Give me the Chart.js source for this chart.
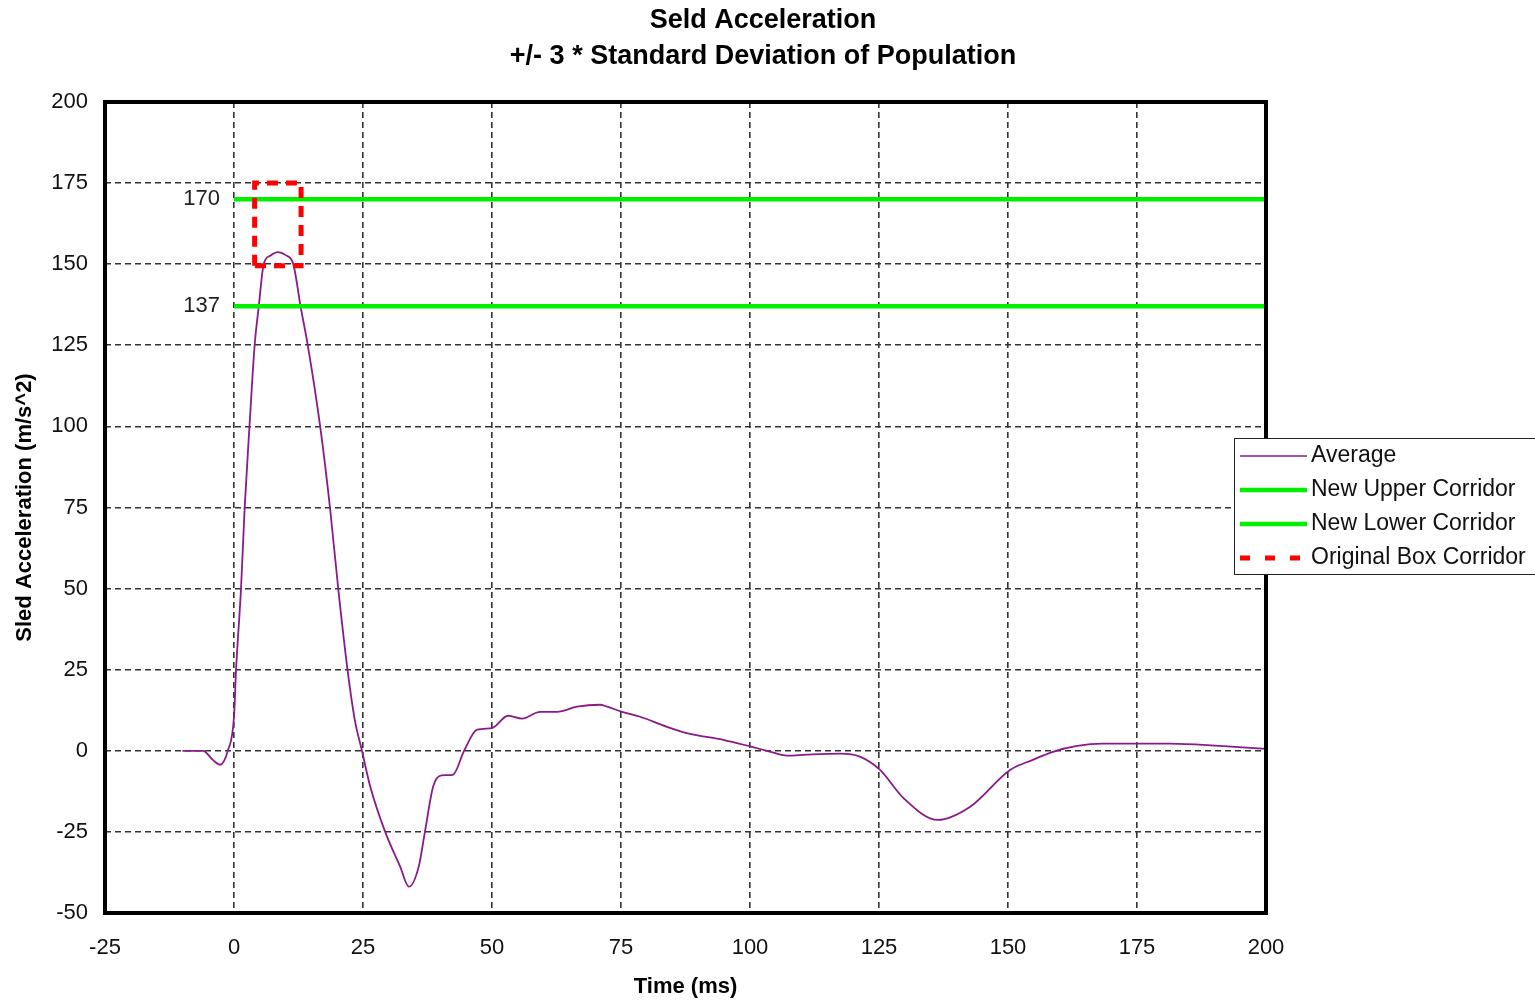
<!DOCTYPE html>
<html>
<head>
<meta charset="utf-8">
<title>Seld Acceleration</title>
<script src="https://cdn.jsdelivr.net/npm/chart.js@4.4.0/dist/chart.umd.min.js"></script>
<style>
    body { margin:0; background:#fff; }
    #wrap { width:1535px; height:1001px; }
</style>
</head>
<body>
<div id="wrap"><canvas id="sledChart" width="1535" height="1001"></canvas></div>
<script>
// values
var timeMs = [-10, -6, -4.1, -2.7, -1.2, 0, 0.4, 1.36, 2.07, 3.0, 4.0, 4.8, 5.75, 7, 8.5, 10, 11.5, 12.9, 14.3, 16.7, 18.6, 20.2, 22.0, 23.4, 24.8, 26.4, 29.3, 32.2, 33.9, 35.8, 37, 38.6, 40.2, 42.4, 44.6, 47.1, 50, 53.1, 55.8, 59.3, 62.6, 66.5, 70.9, 72.3, 75.2, 78.7, 83.9, 88.4, 94.8, 100.4, 103.3, 107.2, 111, 117.4, 121.3, 125.2, 129.7, 136.4, 142.6, 150.4, 154.8, 158.7, 163.4, 168.4, 175, 181.4, 191, 200];
var avgAccel = [0, 0, -2.8, -4.3, 0, 10.5, 25, 50, 75, 100, 125, 137, 150, 152.6, 153.7, 152.8, 150, 137, 125, 100, 75, 50, 25, 9.6, 0, -11, -25, -35.7, -41.9, -35.7, -25, -11, -7.6, -7.4, 0, 6.5, 7, 10.8, 9.9, 12, 12, 13.6, 14.2, 13.6, 12, 10.5, 7.4, 5.2, 3.4, 1.2, 0, -1.5, -1.2, -0.9, -1.8, -5.9, -14.5, -21.3, -17.3, -5.9, -2.8, -0.3, 1.5, 2.2, 2.2, 2.2, 1.5, 0.6];

var corridorX = [0, 200];
var upperCorridor = 170;
var lowerCorridor = 137;
var boxX = [4, 13];
var boxY = [149.5, 175];

var seriesNames = ['Average', 'New Upper Corridor', 'New Lower Corridor', 'Original Box Corridor'];
var titleLines = ['Seld Acceleration', '+/- 3 * Standard Deviation of Population'];

window.addEventListener('DOMContentLoaded', init, false);

function init(){
    Chart.defaults.font.family = '"Liberation Sans", Arial, sans-serif';
    Chart.defaults.color = '#000';

    var avgPoints = [];
    for (var i=0;i<timeMs.length;i++){
        avgPoints.push({x:timeMs[i], y:avgAccel[i]});
    }
    var upperPoints = [{x:corridorX[0], y:upperCorridor}, {x:corridorX[1], y:upperCorridor}];
    var lowerPoints = [{x:corridorX[0], y:lowerCorridor}, {x:corridorX[1], y:lowerCorridor}];
    var boxPoints = [
        {x:boxX[0], y:boxY[0]}, {x:boxX[0], y:boxY[1]},
        {x:boxX[1], y:boxY[1]}, {x:boxX[1], y:boxY[0]},
        {x:boxX[0], y:boxY[0]}
    ];

    new Chart(document.getElementById('sledChart').getContext('2d'), {
        type: 'scatter',
        data: {
            datasets: [{
                label: seriesNames[0],
                data: avgPoints,
                showLine: true,
                borderColor: '#8a1a8a',
                borderWidth: 1.8,
                pointRadius: 0,
                cubicInterpolationMode: 'monotone',
                order: 3
            },
            {
                label: seriesNames[1],
                data: upperPoints,
                showLine: true,
                borderColor: '#00f000',
                borderWidth: 4.5,
                pointRadius: 0,
                order: 2
            },
            {
                label: seriesNames[2],
                data: lowerPoints,
                showLine: true,
                borderColor: '#00f000',
                borderWidth: 4.5,
                pointRadius: 0,
                order: 1
            },
            {
                label: seriesNames[3],
                data: boxPoints,
                showLine: true,
                borderColor: '#ff0000',
                borderWidth: 5,
                borderDash: [11, 8],
                pointRadius: 0,
                order: 0
            }]
        },
        options: {
            responsive: false,
            animation: false,
            layout: { padding: { left:0, right:9, top:0, bottom:0 } },
            plugins: {
                legend: { display: false },
                tooltip: { enabled: false },
                title: {
                    display: true,
                    text: titleLines,
                    font: { size: 27, weight: 'bold', lineHeight: 1.333 },
                    color: '#000',
                    padding: { top: 3, bottom: 27 }
                }
            },
            scales: {
                x: {
                    type: 'linear',
                    min: -25,
                    max: 200,
                    ticks: { stepSize: 25, padding: 22, font: { size: 22 }, color: '#111' },
                    grid: { color: '#333', lineWidth: 1.6, drawTicks: false },
                    border: { display: false, dash: [6, 4] },
                    title: { display: true, text: 'Time (ms)', font: { size: 22, weight: 'bold' }, padding: { top: 0, bottom: 1 } },
                    afterFit: function(scale){ scale.height = 88; }
                },
                y: {
                    min: -50,
                    max: 200,
                    ticks: { stepSize: 25, padding: 17, font: { size: 22 }, color: '#111' },
                    grid: { color: '#333', lineWidth: 1.6, drawTicks: false },
                    border: { display: false, dash: [6, 4] },
                    title: { display: true, text: 'Sled Acceleration (m/s^2)', font: { size: 22, weight: 'bold' }, padding: { top: 12, bottom: 0 } },
                    afterFit: function(scale){ scale.width = 105; }
                },
                // empty right gutter that holds the legend, so the title centres on the page
                gutter: {
                    type: 'linear',
                    position: 'right',
                    display: true,
                    ticks: { display: false },
                    grid: { display: false, drawTicks: false },
                    border: { display: false },
                    afterFit: function(scale){ scale.width = 260; }
                }
            }
        },
        plugins: [framePlugin]
    });
}

var framePlugin = {
    id: 'frameAndLegend',
    afterDraw: function(chart){
        var ctx = chart.ctx;
        var area = chart.chartArea;
        var xs = chart.scales.x;
        var ys = chart.scales.y;
        ctx.save();

        // thick plot frame
        ctx.strokeStyle = '#000';
        ctx.lineWidth = 4;
        ctx.setLineDash([]);
        ctx.strokeRect(area.left, area.top, area.right - area.left, area.bottom - area.top);

        // corridor value labels
        ctx.font = '22px "Liberation Sans", Arial, sans-serif';
        ctx.fillStyle = '#222';
        ctx.textAlign = 'right';
        ctx.textBaseline = 'middle';
        ctx.fillText(String(upperCorridor), xs.getPixelForValue(corridorX[0]) - 14, ys.getPixelForValue(upperCorridor));
        ctx.fillText(String(lowerCorridor), xs.getPixelForValue(corridorX[0]) - 14, ys.getPixelForValue(lowerCorridor));

        // legend box
        var bx = 1234, by = 438, bw = 320, bh = 136;
        ctx.fillStyle = '#fff';
        ctx.fillRect(bx, by, bw, bh);
        ctx.strokeStyle = '#222';
        ctx.lineWidth = 1;
        ctx.strokeRect(bx + 0.5, by + 0.5, bw, bh);

        ctx.font = '23px "Liberation Sans", Arial, sans-serif';
        ctx.textAlign = 'left';
        var sets = chart.data.datasets;
        for (var i=0;i<sets.length;i++){
            var yy = by + 18 + i*34;
            ctx.beginPath();
            ctx.strokeStyle = sets[i].borderColor;
            ctx.lineWidth = i == 0 ? 1.5 : sets[i].borderWidth;
            ctx.setLineDash(sets[i].borderDash ? [10, 15] : []);
            ctx.moveTo(bx + 6, yy);
            ctx.lineTo(bx + 73, yy);
            ctx.stroke();
            ctx.setLineDash([]);
            ctx.fillStyle = '#111';
            ctx.fillText(sets[i].label, bx + 77, yy);
        }
        ctx.restore();
    }
};
</script>
</body>
</html>
